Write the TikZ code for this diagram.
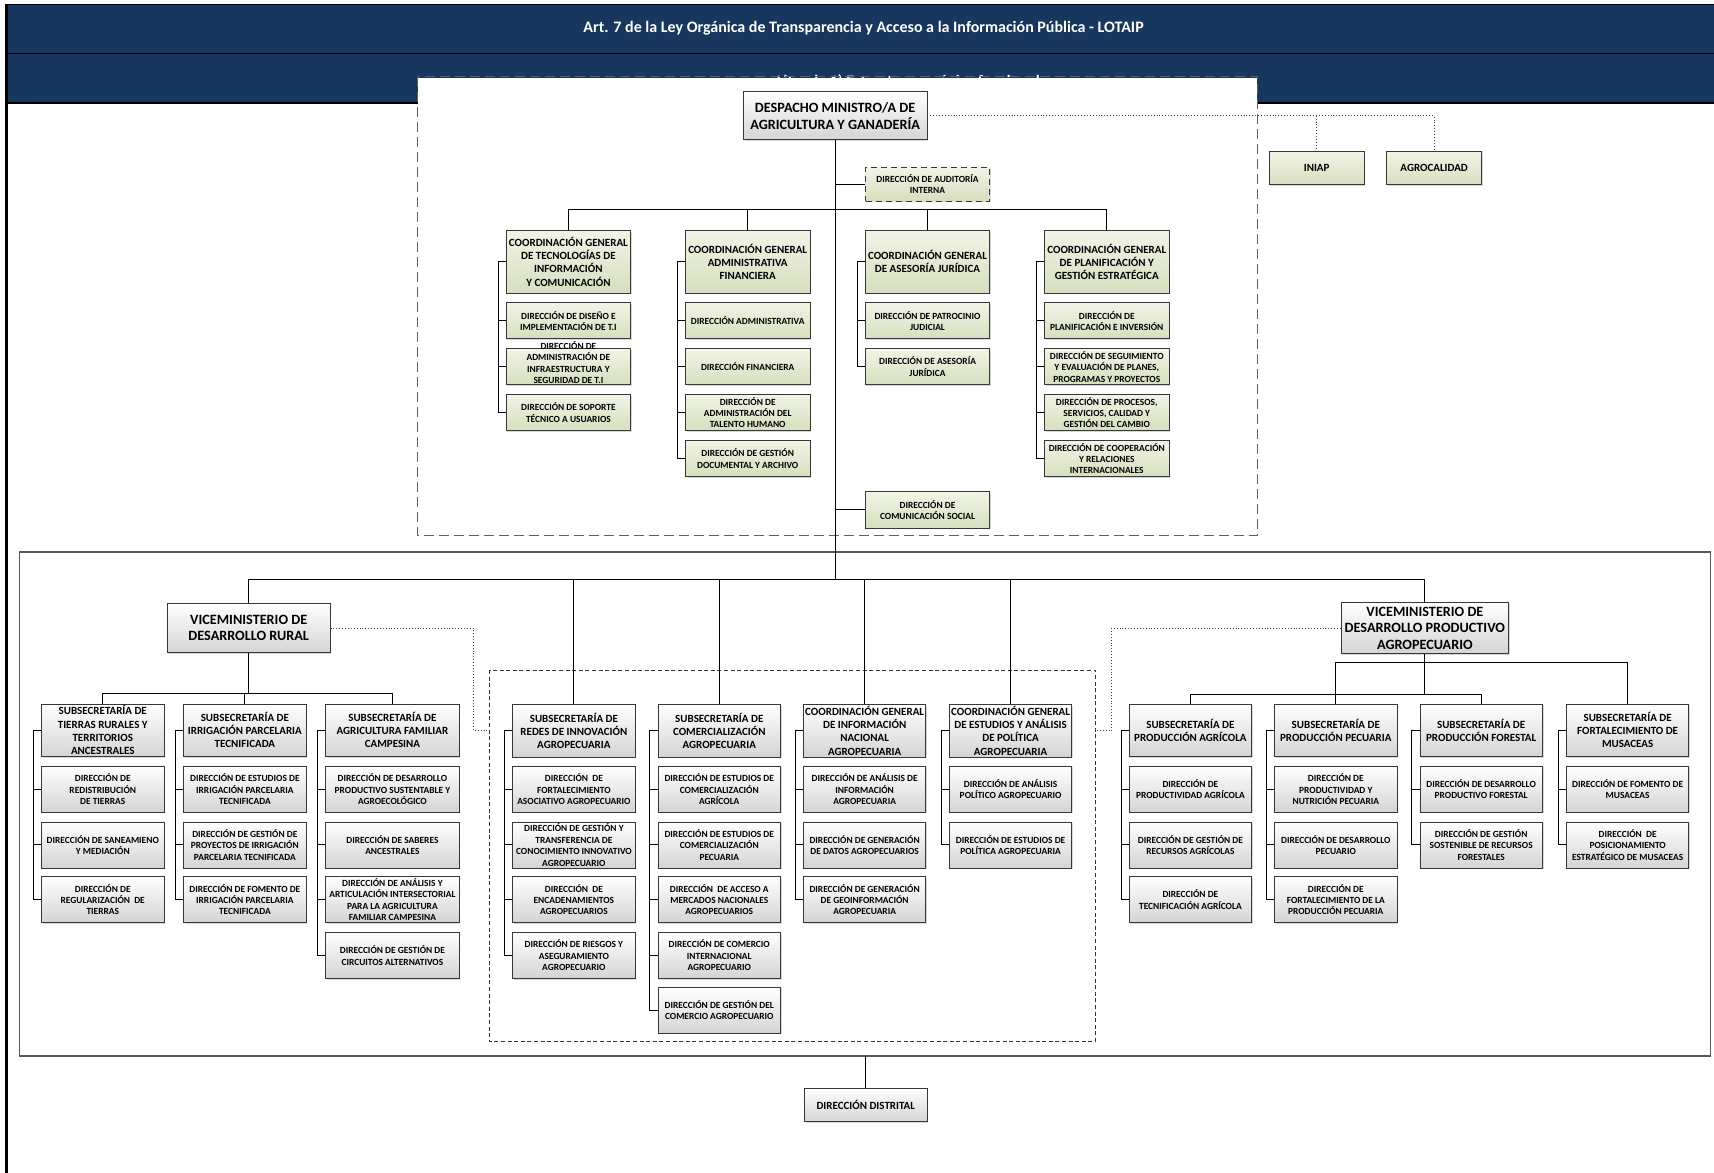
\documentclass[tikz,border=0pt]{standalone}
\usepackage{fontspec}
\setmainfont{Carlito}
\usetikzlibrary{shadows}
\definecolor{navy}{RGB}{23,55,94}
\definecolor{greentop}{RGB}{241,244,230}
\definecolor{greenbot}{RGB}{214,223,190}
\definecolor{greybot}{RGB}{212,212,212}
\definecolor{boxline}{RGB}{55,55,55}

\begin{document}
\begin{tikzpicture}[x=0.5465pt,y=-0.5465pt,
  box/.style={draw=boxline,line width=0.45pt,align=center,inner xsep=0.3pt,inner ysep=0.5pt,
    drop shadow={shadow xshift=0.6pt,shadow yshift=-0.6pt,opacity=0.3}},
  greybox/.style={box,top color=white,bottom color=greybot},
  greenbox/.style={box,top color=greentop,bottom color=greenbot},
  titletxt/.style={font=\bfseries\fontsize{8}{9.6}\selectfont,text=white},
  bigtxt/.style={font=\bfseries\fontsize{7.1}{8.3}\selectfont},
  midtxt/.style={font=\bfseries\fontsize{5.5}{6.6}\selectfont},
  smalltxt/.style={font=\bfseries\fontsize{4.7}{5.7}\selectfont},
  tophead/.style={greenbox,midtxt,minimum width=62.3pt,minimum height=31.2pt},
  topdir/.style={greenbox,smalltxt,minimum width=62.3pt,minimum height=18pt},
  subhead/.style={greybox,midtxt,minimum width=61.2pt,minimum height=26.2pt},
  subdir/.style={greybox,smalltxt,minimum width=61.2pt,minimum height=23pt},
  vicebox/.style={greybox,bigtxt},
  link/.style={draw=black,line width=0.5pt},
  dotlink/.style={draw=black!75,line width=0.45pt,densely dotted}]

\useasboundingbox (0,0) rectangle (1568,1073);

% bands
\fill[navy] (6,4) rectangle (1568,94);
\draw[black,line width=0.8pt] (6,4) -- (1568,4);
\draw[black,line width=0.8pt] (6,49) -- (1568,49);
\draw[black,line width=0.8pt] (6,94) -- (1568,94);
\draw[black,line width=1.4pt] (6,4) -- (6,1073);
\node[titletxt] (title) at (790,26) {Art. 7 de la Ley Orgánica de Transparencia y Acceso a la Información Pública - LOTAIP};
\node[titletxt] (subt) at (831,75) {Literal a1) Estructura orgánica funcional};

% frames
\fill[white] (382,71.5) rectangle (1150,490);
\draw[gray!75!black,line width=0.55pt,dash pattern=on 5pt off 2.5pt] (382,70) rectangle (1150,490);
\draw[gray!70!black,line width=0.6pt] (18,505) rectangle (1565,966);
\draw[black!80,line width=0.45pt,dash pattern=on 2pt off 1.3pt] (448,613) rectangle (1002,953);

% despacho
\node[vicebox,minimum width=91.8pt,minimum height=24pt] (desp) at (764,106) {DESPACHO MINISTRO/A DE\\AGRICULTURA Y GANADERÍA};
\node[topdir,densely dashed,minimum width=61.8pt,minimum height=17pt] (aud) at (848.5,168.5) {DIRECCIÓN DE AUDITORÍA\\INTERNA};
\node[greenbox,midtxt,minimum width=47.5pt,minimum height=16.4pt] (iniap) at (1204.5,154) {INIAP};
\node[greenbox,midtxt,minimum width=47.5pt,minimum height=16.4pt] (agro) at (1312,154) {AGROCALIDAD};

% coordinaciones generales
\node[tophead] (tic) at (520,239.5) {COORDINACIÓN GENERAL\\DE TECNOLOGÍAS DE\\INFORMACIÓN\\Y COMUNICACIÓN};
\node[topdir] (tic1) at (520,293.5) {DIRECCIÓN DE DISEÑO E\\IMPLEMENTACIÓN DE T.I};
\node[topdir] (tic2) at (520,335.5) {\smash{\begin{tabular}{@{}c@{}}DIRECCIÓN DE\\ADMINISTRACIÓN DE\\INFRAESTRUCTURA Y\\SEGURIDAD DE T.I\end{tabular}}};
\node[topdir] (tic3) at (520,377.5) {DIRECCIÓN DE SOPORTE\\TÉCNICO A USUARIOS};

\node[tophead] (adm) at (684,239.5) {COORDINACIÓN GENERAL\\ADMINISTRATIVA\\FINANCIERA};
\node[topdir] (adm1) at (684,293.5) {DIRECCIÓN ADMINISTRATIVA};
\node[topdir] (adm2) at (684,335.5) {DIRECCIÓN FINANCIERA};
\node[topdir] (adm3) at (684,377.5) {DIRECCIÓN DE\\ADMINISTRACIÓN DEL\\TALENTO HUMANO};
\node[topdir] (adm4) at (684,419.5) {DIRECCIÓN DE GESTIÓN\\DOCUMENTAL Y ARCHIVO};

\node[tophead] (jur) at (848.5,239.5) {COORDINACIÓN GENERAL\\DE ASESORÍA JURÍDICA};
\node[topdir] (jur1) at (848.5,293.5) {DIRECCIÓN DE PATROCINIO\\JUDICIAL};
\node[topdir] (jur2) at (848.5,335.5) {DIRECCIÓN DE ASESORÍA\\JURÍDICA};

\node[tophead] (plan) at (1012.5,239.5) {COORDINACIÓN GENERAL\\DE PLANIFICACIÓN Y\\GESTIÓN ESTRATÉGICA};
\node[topdir] (plan1) at (1012.5,293.5) {DIRECCIÓN DE\\PLANIFICACIÓN E INVERSIÓN};
\node[topdir] (plan2) at (1012.5,335.5) {DIRECCIÓN DE SEGUIMIENTO\\Y EVALUACIÓN DE PLANES,\\PROGRAMAS Y PROYECTOS};
\node[topdir] (plan3) at (1012.5,377.5) {DIRECCIÓN DE PROCESOS,\\SERVICIOS, CALIDAD Y\\GESTIÓN DEL CAMBIO};
\node[topdir] (plan4) at (1012.5,419.5) {DIRECCIÓN DE COOPERACIÓN\\Y RELACIONES\\INTERNACIONALES};

\node[topdir] (com) at (848.5,466.5) {DIRECCIÓN DE\\COMUNICACIÓN SOCIAL};

% viceministerio de desarrollo rural
\node[vicebox,minimum width=81.4pt,minimum height=24.6pt] (vr) at (227.5,574.5) {VICEMINISTERIO DE\\DESARROLLO RURAL};
\node[subhead] (tie) at (94,668) {SUBSECRETARÍA DE\\TIERRAS RURALES Y\\TERRITORIOS\\ANCESTRALES};
\node[subdir] (tie1) at (94,722) {DIRECCIÓN DE\\REDISTRIBUCIÓN\\DE TIERRAS};
\node[subdir] (tie2) at (94,773) {DIRECCIÓN DE SANEAMIENO\\Y MEDIACIÓN};
\node[subdir] (tie3) at (94,823) {DIRECCIÓN DE\\REGULARIZACIÓN~ DE\\TIERRAS};

\node[subhead] (irr) at (224,668) {SUBSECRETARÍA DE\\IRRIGACIÓN PARCELARIA\\TECNIFICADA};
\node[subdir] (irr1) at (224,722) {DIRECCIÓN DE ESTUDIOS DE\\IRRIGACIÓN PARCELARIA\\TECNIFICADA};
\node[subdir] (irr2) at (224,773) {DIRECCIÓN DE GESTIÓN DE\\PROYECTOS DE IRRIGACIÓN\\PARCELARIA TECNIFICADA};
\node[subdir] (irr3) at (224,823) {DIRECCIÓN DE FOMENTO DE\\IRRIGACIÓN PARCELARIA\\TECNIFICADA};

\node[subhead,minimum width=66.7pt] (fam) at (359,668) {SUBSECRETARÍA DE\\AGRICULTURA FAMILIAR\\CAMPESINA};
\node[subdir,minimum width=66.7pt] (fam1) at (359,722) {DIRECCIÓN DE DESARROLLO\\PRODUCTIVO SUSTENTABLE Y\\AGROECOLÓGICO};
\node[subdir,minimum width=66.7pt] (fam2) at (359,773) {DIRECCIÓN DE SABERES\\ANCESTRALES};
\node[subdir,minimum width=66.7pt] (fam3) at (359,823) {DIRECCIÓN DE ANÁLISIS Y\\ARTICULACIÓN INTERSECTORIAL\\PARA LA AGRICULTURA\\FAMILIAR CAMPESINA};
\node[subdir,minimum width=66.7pt] (fam4) at (359,874) {DIRECCIÓN DE GESTIÓN DE\\CIRCUITOS ALTERNATIVOS};

% subsecretarias y coordinaciones centrales
\node[subhead] (red) at (525,668.5) {SUBSECRETARÍA DE\\REDES DE INNOVACIÓN\\AGROPECUARIA};
\node[subdir] (red1) at (525,722) {DIRECCIÓN~ DE\\FORTALECIMIENTO\\ASOCIATIVO AGROPECUARIO};
\node[subdir] (red2) at (525,773) {DIRECCIÓN DE GESTIÓN Y\\TRANSFERENCIA DE\\CONOCIMIENTO INNOVATIVO\\AGROPECUARIO};
\node[subdir] (red3) at (525,823) {DIRECCIÓN~ DE\\ENCADENAMIENTOS\\AGROPECUARIOS};
\node[subdir] (red4) at (525,874) {DIRECCIÓN DE RIESGOS Y\\ASEGURAMIENTO\\AGROPECUARIO};

\node[subhead] (cmr) at (658,668.5) {SUBSECRETARÍA DE\\COMERCIALIZACIÓN\\AGROPECUARIA};
\node[subdir] (cmr1) at (658,722) {DIRECCIÓN DE ESTUDIOS DE\\COMERCIALIZACIÓN\\AGRÍCOLA};
\node[subdir] (cmr2) at (658,773) {DIRECCIÓN DE ESTUDIOS DE\\COMERCIALIZACIÓN\\PECUARIA};
\node[subdir] (cmr3) at (658,823) {DIRECCIÓN~ DE ACCESO A\\MERCADOS NACIONALES\\AGROPECUARIOS};
\node[subdir] (cmr4) at (658,874) {DIRECCIÓN DE COMERCIO\\INTERNACIONAL\\AGROPECUARIO};
\node[subdir] (cmr5) at (658,924) {DIRECCIÓN DE GESTIÓN DEL\\COMERCIO AGROPECUARIO};

\node[subhead] (inf) at (791,668.5) {COORDINACIÓN GENERAL\\DE INFORMACIÓN\\NACIONAL\\AGROPECUARIA};
\node[subdir] (inf1) at (791,722) {DIRECCIÓN DE ANÁLISIS DE\\INFORMACIÓN\\AGROPECUARIA};
\node[subdir] (inf2) at (791,773) {DIRECCIÓN DE GENERACIÓN\\DE DATOS AGROPECUARIOS};
\node[subdir] (inf3) at (791,823) {DIRECCIÓN DE GENERACIÓN\\DE GEOINFORMACIÓN\\AGROPECUARIA};

\node[subhead] (est) at (924.5,668.5) {COORDINACIÓN GENERAL\\DE ESTUDIOS Y ANÁLISIS\\DE POLÍTICA\\AGROPECUARIA};
\node[subdir] (est1) at (924.5,722) {DIRECCIÓN DE ANÁLISIS\\POLÍTICO AGROPECUARIO};
\node[subdir] (est2) at (924.5,773) {DIRECCIÓN DE ESTUDIOS DE\\POLÍTICA AGROPECUARIA};

% viceministerio de desarrollo productivo
\node[vicebox,minimum width=83.6pt,minimum height=25.7pt] (vp) at (1303.5,574.5) {VICEMINISTERIO DE\\DESARROLLO PRODUCTIVO\\AGROPECUARIO};
\node[subhead] (agr) at (1089,668) {SUBSECRETARÍA DE\\PRODUCCIÓN AGRÍCOLA};
\node[subdir] (agr1) at (1089,722) {DIRECCIÓN DE\\PRODUCTIVIDAD AGRÍCOLA};
\node[subdir] (agr2) at (1089,773) {DIRECCIÓN DE GESTIÓN DE\\RECURSOS AGRÍCOLAS};
\node[subdir] (agr3) at (1089,823) {DIRECCIÓN DE\\TECNIFICACIÓN AGRÍCOLA};

\node[subhead] (pec) at (1222,668) {SUBSECRETARÍA DE\\PRODUCCIÓN PECUARIA};
\node[subdir] (pec1) at (1222,722) {DIRECCIÓN DE\\PRODUCTIVIDAD Y\\NUTRICIÓN PECUARIA};
\node[subdir] (pec2) at (1222,773) {DIRECCIÓN DE DESARROLLO\\PECUARIO};
\node[subdir] (pec3) at (1222,823) {DIRECCIÓN DE\\FORTALECIMIENTO DE LA\\PRODUCCIÓN PECUARIA};

\node[subhead] (fst) at (1355,668) {SUBSECRETARÍA DE\\PRODUCCIÓN FORESTAL};
\node[subdir] (fst1) at (1355,722) {DIRECCIÓN DE DESARROLLO\\PRODUCTIVO FORESTAL};
\node[subdir] (fst2) at (1355,773) {DIRECCIÓN DE GESTIÓN\\SOSTENIBLE DE RECURSOS\\FORESTALES};

\node[subhead] (mus) at (1489,668) {SUBSECRETARÍA DE\\FORTALECIMIENTO DE\\MUSACEAS};
\node[subdir] (mus1) at (1489,722) {DIRECCIÓN DE FOMENTO DE\\MUSACEAS};
\node[subdir] (mus2) at (1489,773) {DIRECCIÓN~ DE\\POSICIONAMIENTO\\ESTRATÉGICO DE MUSACEAS};

\node[greybox,midtxt,minimum width=61.2pt,minimum height=16.4pt] (distr) at (792,1011) {DIRECCIÓN DISTRITAL};

% connectors top
\coordinate (mbus) at (764,530);
\coordinate (cbus) at (764,192);
\draw[link] (desp.south) -- (mbus);
\draw[link] (aud.west) -- (aud.west -| desp.south);
\draw[link] (com.west) -- (com.west -| desp.south);
\draw[link] (tic.north) -- (tic.north |- cbus) -- (plan.north |- cbus) -- (plan.north);
\draw[link] (adm.north) -- (adm.north |- cbus);
\draw[link] (jur.north) -- (jur.north |- cbus);
\draw[dotlink] (desp.east) -| (agro.north);
\draw[dotlink] (iniap.north) -- (iniap.north |- desp.east);
\draw[link] (tic.west) -- ++(-7,0) |- (tic3.west);
\foreach \d in {tic1,tic2} \draw[link] (\d.west) -- ++(-7,0);
\draw[link] (adm.west) -- ++(-7,0) |- (adm4.west);
\foreach \d in {adm1,adm2,adm3} \draw[link] (\d.west) -- ++(-7,0);
\draw[link] (jur.west) -- ++(-7,0) |- (jur2.west);
\draw[link] (jur1.west) -- ++(-7,0);
\draw[link] (plan.west) -- ++(-7,0) |- (plan4.west);
\foreach \d in {plan1,plan2,plan3} \draw[link] (\d.west) -- ++(-7,0);

% connectors middle
\draw[link] (vr.north) -- (vr.north |- mbus) -- (vp.north |- mbus) -- (vp.north);
\foreach \d in {red,cmr,inf,est} \draw[link] (\d.north) -- (\d.north |- mbus);
\coordinate (rjoin) at (433,668);
\coordinate (cboxL) at (448,668);
\coordinate (pjoin) at (1017,668);
\coordinate (cboxR) at (1002,668);
\draw[dotlink] (vr.east) -| (rjoin) -- (cboxL);
\draw[dotlink] (vp.west) -| (pjoin) -- (cboxR);
\draw[link] (red.west) -- ++(-7,0) |- (red4.west);
\foreach \d in {red1,red2,red3} \draw[link] (\d.west) -- ++(-7,0);
\draw[link] (cmr.west) -- ++(-7,0) |- (cmr5.west);
\foreach \d in {cmr1,cmr2,cmr3,cmr4} \draw[link] (\d.west) -- ++(-7,0);
\draw[link] (inf.west) -- ++(-7,0) |- (inf3.west);
\foreach \d in {inf1,inf2} \draw[link] (\d.west) -- ++(-7,0);
\draw[link] (est.west) -- ++(-7,0) |- (est2.west);
\draw[link] (est1.west) -- ++(-7,0);

% connectors rural
\coordinate (rbus) at (227.5,634);
\draw[link] (vr.south) -- (rbus);
\draw[link] (tie.north) -- (tie.north |- rbus) -- (fam.north |- rbus) -- (fam.north);
\draw[link] (irr.north) -- (irr.north |- rbus);
\draw[link] (tie.west) -- ++(-7,0) |- (tie3.west);
\foreach \d in {tie1,tie2} \draw[link] (\d.west) -- ++(-7,0);
\draw[link] (irr.west) -- ++(-7,0) |- (irr3.west);
\foreach \d in {irr1,irr2} \draw[link] (\d.west) -- ++(-7,0);
\draw[link] (fam.west) -- ++(-7,0) |- (fam4.west);
\foreach \d in {fam1,fam2,fam3} \draw[link] (\d.west) -- ++(-7,0);

% connectors productivo
\coordinate (pbusA) at (1303.5,606);
\coordinate (pbusB) at (1303.5,635);
\draw[link] (vp.south) -- (pbusB);
\draw[link] (pec.north) -- (pec.north |- pbusA) -- (mus.north |- pbusA) -- (mus.north);
\draw[link] (agr.north) -- (agr.north |- pbusB) -- (fst.north |- pbusB) -- (fst.north);
\draw[link] (agr.west) -- ++(-7,0) |- (agr3.west);
\foreach \d in {agr1,agr2} \draw[link] (\d.west) -- ++(-7,0);
\draw[link] (pec.west) -- ++(-7,0) |- (pec3.west);
\foreach \d in {pec1,pec2} \draw[link] (\d.west) -- ++(-7,0);
\draw[link] (fst.west) -- ++(-7,0) |- (fst2.west);
\draw[link] (fst1.west) -- ++(-7,0);
\draw[link] (mus.west) -- ++(-7,0) |- (mus2.west);
\draw[link] (mus1.west) -- ++(-7,0);

% distrital
\coordinate (bigbot) at (792,966);
\draw[link] (bigbot) -- (distr.north);
\end{tikzpicture}
\end{document}
